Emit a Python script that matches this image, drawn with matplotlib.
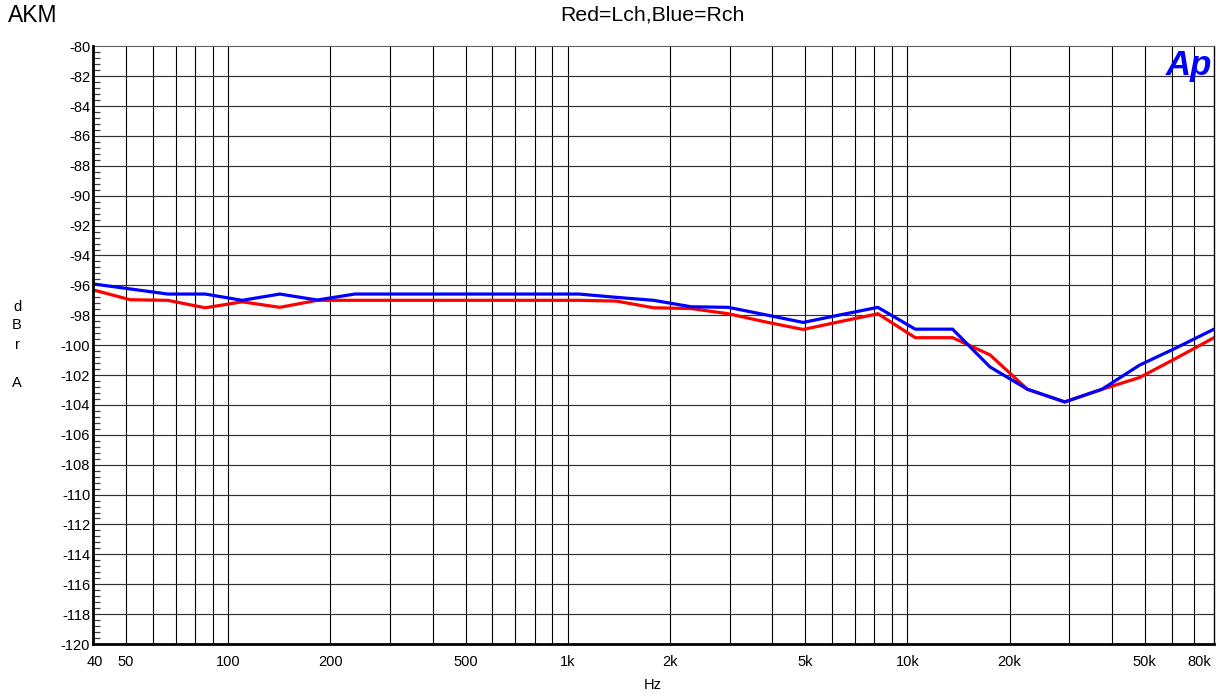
import matplotlib
matplotlib.use("Agg")
import matplotlib.pyplot as plt
import matplotlib.transforms as mtransforms
from matplotlib.ticker import FixedLocator, NullFormatter, MultipleLocator

plt.rcParams['font.family'] = ['Liberation Sans', 'DejaVu Sans']

# Sweep frequencies (Hz)
freq = [40, 51.5, 66.4, 85.6, 110, 142, 183, 236, 304, 391, 504, 650, 837,
        1079, 1390, 1790, 2307, 2972, 3829, 4934, 6357, 8190, 10552, 13595,
        17516, 22568, 29076, 37461, 48264, 62183, 80000]

# Left channel (red), dBr A
lch = [-96.3, -96.96, -97.0, -97.5, -97.1, -97.47, -97.0, -97.0, -97.0, -97.0,
       -97.0, -97.0, -97.0, -97.0, -97.05, -97.5, -97.55, -97.9, -98.45, -98.95,
       -98.42, -97.9, -99.5, -99.5, -100.65, -102.95, -103.8, -102.95, -102.17,
       -100.85, -99.5]

# Right channel (blue), dBr A
rch = [-95.9, -96.24, -96.58, -96.58, -97.0, -96.58, -96.98, -96.58, -96.58,
       -96.58, -96.58, -96.58, -96.58, -96.58, -96.8, -97.0, -97.43, -97.47,
       -97.97, -98.48, -97.97, -97.47, -98.93, -98.93, -101.46, -102.95, -103.8,
       -102.95, -101.34, -100.16, -98.93]

xtick_vals = [40, 50, 100, 200, 500, 1000, 2000, 5000, 10000, 20000, 50000, 80000]
xtick_text = ["40", "50", "100", "200", "500", "1k", "2k", "5k", "10k", "20k", "50k", "80k"]
grid_freqs = [m * d for d in (10, 100, 1000, 10000) for m in range(1, 10)
              if 40 < m * d < 80000]

fig = plt.figure(figsize=(12.22, 6.98), dpi=100)
ax = fig.add_axes([93 / 1222, 1 - 644 / 698, (1214 - 93) / 1222, (644 - 46.3) / 698])

ax.set_xscale('log')
ax.set_xlim(40, 80000)
ax.set_ylim(-120, -80)

# grid
for f in grid_freqs:
    ax.axvline(f, color='black', lw=0.8, zorder=1)
for y in range(-118, -80, 2):
    ax.axhline(y, color='#303030', lw=0.85, zorder=1)

ax.plot(freq, lch, color='#ff0000', lw=2.3, zorder=3, solid_joinstyle='miter')
ax.plot(freq, rch, color='#0000ff', lw=2.3, zorder=4, solid_joinstyle='miter')

# ticks
ax.xaxis.set_major_locator(FixedLocator(xtick_vals))
ax.xaxis.set_minor_locator(FixedLocator([]))
ax.set_xticklabels(xtick_text)
ax.tick_params(axis='x', which='both', length=0, pad=8, labelsize=10.5)
labels = ax.get_xticklabels()
labels[-1].set_horizontalalignment('right')
labels[-1].set_transform(labels[-1].get_transform() +
                         mtransforms.ScaledTranslation(-3 / 100, 0, fig.dpi_scale_trans))
labels[0].set_transform(labels[0].get_transform() +
                        mtransforms.ScaledTranslation(2 / 100, 0, fig.dpi_scale_trans))

ax.yaxis.set_major_locator(MultipleLocator(2))
ax.yaxis.set_minor_locator(MultipleLocator(0.4))
ax.yaxis.set_minor_formatter(NullFormatter())
ax.set_yticklabels([f"{int(v)}" for v in ax.get_yticks()])
ax.tick_params(axis='y', which='major', direction='in', length=0, pad=2, labelsize=10.5)
ax.tick_params(axis='y', which='minor', direction='in', length=5, width=0.9, color='#404040')

for side in ('left', 'bottom'):
    ax.spines[side].set_linewidth(2.0)
    ax.spines[side].set_zorder(5)
ax.spines['top'].set_linewidth(0.8)
ax.spines['top'].set_color('#606060')
ax.spines['right'].set_linewidth(1.0)

# labels
fig.text(8 / 1222, 1 - 15 / 698, "AKM", fontsize=16.5, ha='left', va='center')
fig.text(652 / 1222, 1 - 15 / 698, "Red=Lch,Blue=Rch", fontsize=15.3, ha='center', va='center')
fig.text(653 / 1222, 1 - 685 / 698, "Hz", fontsize=10.5, ha='center', va='center')
for ch, yy in (("d", 307), ("B", 325), ("r", 345), ("A", 383)):
    fig.text(17 / 1222, 1 - yy / 698, ch, fontsize=10.5, ha='center', va='center')

fig.text(1189 / 1222, 1 - 66 / 698, "Ap", fontsize=25, color='#0000ff',
         fontweight='bold', fontstyle='italic', ha='center', va='center')

fig.savefig("out.png", dpi=100)
